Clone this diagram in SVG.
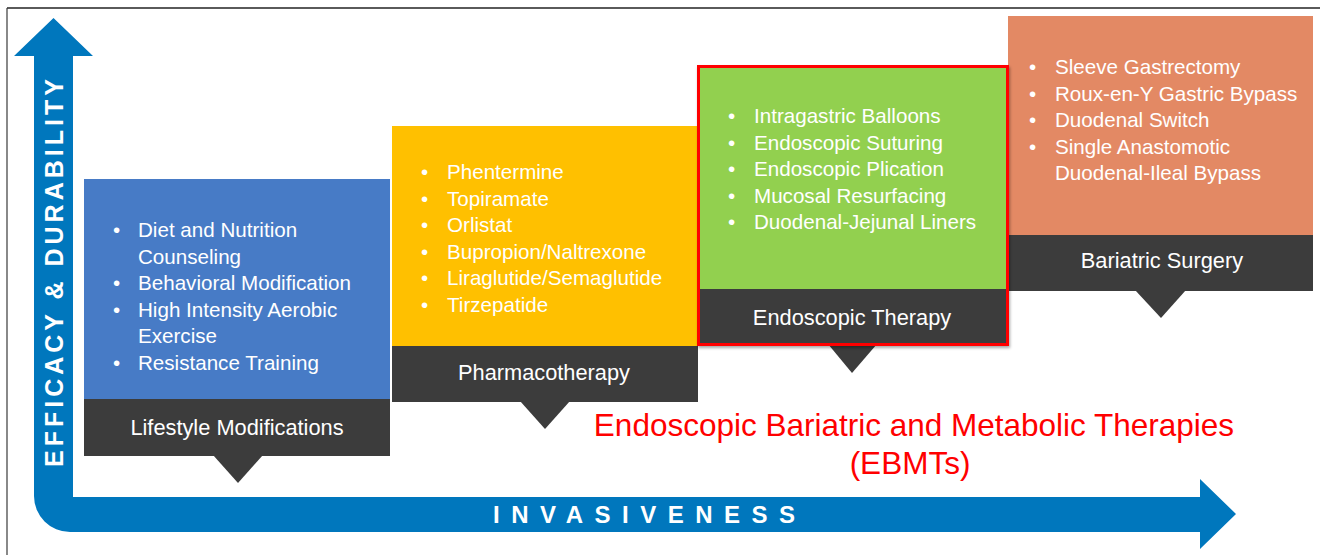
<svg xmlns="http://www.w3.org/2000/svg" width="1320" height="555" viewBox="0 0 1320 555">
  <style>
    .item { font-family: "Liberation Sans", Arial, sans-serif; font-size: 20.6px; fill: #ffffff; }
    .label { font-family: "Liberation Sans", Arial, sans-serif; font-size: 21.8px; fill: #ffffff; text-anchor: middle; }
    .bar { fill: #3c3c3c; }
    .axis { fill: #0077bd; }
    .axis-text { font-family: "Liberation Sans", Arial, sans-serif; font-weight: bold; fill: #ffffff; }
    .callout { font-family: "Liberation Sans", Arial, sans-serif; font-size: 31.5px; fill: #ff0000; text-anchor: middle; }
  </style>
  <defs>
    <filter id="shadow" x="-5%" y="-5%" width="110%" height="110%">
      <feDropShadow dx="1" dy="2" stdDeviation="1.5" flood-color="#000000" flood-opacity="0.35"/>
    </filter>
  </defs>

  <rect x="0" y="0" width="1320" height="555" fill="#ffffff"/>
  <!-- frame -->
  <line x1="7" y1="8" x2="1320" y2="8" stroke="#5a5a5a" stroke-width="2"/>
  <line x1="7" y1="8" x2="7" y2="555" stroke="#3a3a3a" stroke-width="1.2"/>

  <!-- axes -->
  <g id="axes">
    <path class="axis" d="M53.5 18 L93 56 L73 56 L73 497 L1200 497 L1200 479 L1236 514 L1200 549 L1200 532 L70 532 A36 36 0 0 1 34 496 L34 56 L14 56 Z"/>
    <text class="axis-text" font-size="25" letter-spacing="4" transform="translate(63,467) rotate(-90)">EFFICACY &amp; DURABILITY</text>
    <text class="axis-text" font-size="24" letter-spacing="11.5" x="493" y="523">INVASIVENESS</text>
  </g>

  <!-- Lifestyle Modifications -->
  <g id="lifestyle">
    <rect x="84" y="179" width="306" height="221" fill="#477bc6"/>
    <rect class="bar" x="84" y="399" width="306" height="57"/>
    <polygon class="bar" points="213,455 263,455 238,483"/>
    <g class="item">
      <text x="113" y="237">•</text><text x="138" y="237">Diet and Nutrition</text>
      <text x="138" y="263.5">Counseling</text>
      <text x="113" y="290">•</text><text x="138" y="290">Behavioral Modification</text>
      <text x="113" y="316.5">•</text><text x="138" y="316.5">High Intensity Aerobic</text>
      <text x="138" y="343">Exercise</text>
      <text x="113" y="369.5">•</text><text x="138" y="369.5">Resistance Training</text>
    </g>
    <text class="label" x="237" y="435">Lifestyle Modifications</text>
  </g>

  <!-- Pharmacotherapy -->
  <g id="pharmacotherapy">
    <rect x="392" y="126" width="306" height="221" fill="#ffc000"/>
    <rect class="bar" x="392" y="346" width="306" height="56"/>
    <polygon class="bar" points="520,401 570,401 545,429"/>
    <g class="item">
      <text x="421" y="179">•</text><text x="447" y="179">Phentermine</text>
      <text x="421" y="205.5">•</text><text x="447" y="205.5">Topiramate</text>
      <text x="421" y="232">•</text><text x="447" y="232">Orlistat</text>
      <text x="421" y="258.5">•</text><text x="447" y="258.5">Bupropion/Naltrexone</text>
      <text x="421" y="285">•</text><text x="447" y="285">Liraglutide/Semaglutide</text>
      <text x="421" y="311.5">•</text><text x="447" y="311.5">Tirzepatide</text>
    </g>
    <text class="label" x="544" y="380">Pharmacotherapy</text>
  </g>

  <!-- Bariatric Surgery -->
  <g id="surgery">
    <rect x="1008" y="16" width="305" height="220" fill="#e38964"/>
    <rect class="bar" x="1008" y="235" width="305" height="56"/>
    <polygon class="bar" points="1135,290 1186,290 1161,318"/>
    <g class="item">
      <text x="1029" y="74">•</text><text x="1055" y="74">Sleeve Gastrectomy</text>
      <text x="1029" y="100.5">•</text><text x="1055" y="100.5">Roux-en-Y Gastric Bypass</text>
      <text x="1029" y="127">•</text><text x="1055" y="127">Duodenal Switch</text>
      <text x="1029" y="153.5">•</text><text x="1055" y="153.5">Single Anastomotic</text>
      <text x="1055" y="180">Duodenal-Ileal Bypass</text>
    </g>
    <text class="label" x="1162" y="268">Bariatric Surgery</text>
  </g>

  <!-- Endoscopic Therapy (highlighted) -->
  <g id="endoscopic">
    <polygon class="bar" points="828,344 877,344 852,373"/>
    <rect x="698.5" y="66.5" width="309" height="278" fill="#92d050" stroke="#ff0000" stroke-width="3" filter="url(#shadow)"/>
    <rect class="bar" x="700" y="289" width="306" height="54"/>
    <g class="item">
      <text x="728" y="123">•</text><text x="754" y="123">Intragastric Balloons</text>
      <text x="728" y="149.5">•</text><text x="754" y="149.5">Endoscopic Suturing</text>
      <text x="728" y="176">•</text><text x="754" y="176">Endoscopic Plication</text>
      <text x="728" y="202.5">•</text><text x="754" y="202.5">Mucosal Resurfacing</text>
      <text x="728" y="229">•</text><text x="754" y="229">Duodenal-Jejunal Liners</text>
    </g>
    <text class="label" x="852" y="325">Endoscopic Therapy</text>
  </g>

  <!-- EBMT caption -->
  <g id="ebmt">
    <text class="callout" x="914" y="436">Endoscopic Bariatric and Metabolic Therapies</text>
    <text class="callout" x="910" y="474">(EBMTs)</text>
  </g>
</svg>
